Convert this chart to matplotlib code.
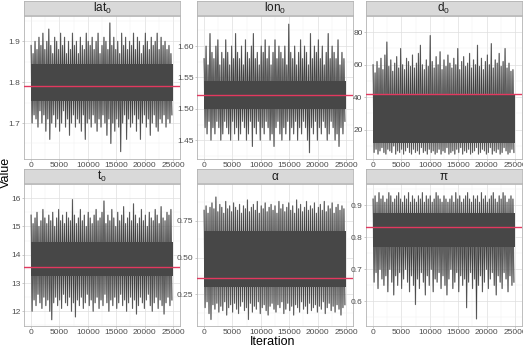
import numpy as np
import matplotlib
matplotlib.use("Agg")
import matplotlib.pyplot as plt

plt.rcParams['font.family'] = ['Liberation Sans', 'DejaVu Sans']

# --- data (MCMC traces, 25000 iterations) ---
n_iter = 25000
panel_titles = ['lat$_\\mathregular{0}$', 'lon$_\\mathregular{0}$', 'd$_\\mathregular{0}$',
                't$_\\mathregular{0}$', 'α', 'π']

# spike tips of each trace (upper / lower extremes per block of iterations)
lat_hi = [1.89, 1.87, 1.90, 1.88, 1.91, 1.89, 1.92, 1.88, 1.90, 1.93, 1.89, 1.87, 1.91, 1.90, 1.88, 1.92, 1.89, 1.91, 1.87, 1.90,
          1.88, 1.92, 1.89, 1.90, 1.87, 1.91, 1.89, 1.88, 1.92, 1.90, 1.89, 1.91, 1.88, 1.90, 1.92, 1.87, 1.89, 1.91, 1.90, 1.88,
          1.945, 1.89, 1.91, 1.88, 1.90, 1.87, 1.92, 1.89, 1.91, 1.88, 1.90, 1.89, 1.92, 1.88, 1.91, 1.90, 1.87, 1.89, 1.92, 1.90,
          1.88, 1.91, 1.89, 1.90, 1.92, 1.88, 1.91, 1.89, 1.90, 1.88, 1.89, 1.87]
lat_lo = [1.70, 1.72, 1.71, 1.69, 1.73, 1.70, 1.72, 1.68, 1.71, 1.66, 1.70, 1.72, 1.69, 1.71, 1.68, 1.70, 1.73, 1.69, 1.71, 1.67,
          1.70, 1.72, 1.69, 1.71, 1.70, 1.68, 1.72, 1.66, 1.70, 1.71, 1.69, 1.72, 1.70, 1.68, 1.71, 1.69, 1.72, 1.70, 1.67, 1.71,
          1.65, 1.70, 1.68, 1.71, 1.69, 1.63, 1.70, 1.72, 1.66, 1.71, 1.69, 1.70, 1.72, 1.68, 1.71, 1.66, 1.70, 1.72, 1.69, 1.71,
          1.67, 1.70, 1.72, 1.69, 1.68, 1.71, 1.70, 1.72, 1.69, 1.71, 1.70, 1.72]
lon_hi = [1.58, 1.60, 1.57, 1.62, 1.59, 1.58, 1.60, 1.61, 1.57, 1.59, 1.58, 1.61, 1.59, 1.57, 1.60, 1.58, 1.62, 1.59, 1.58, 1.60,
          1.57, 1.61, 1.59, 1.58, 1.60, 1.62, 1.58, 1.59, 1.57, 1.60, 1.59, 1.61, 1.58, 1.60, 1.57, 1.59, 1.61, 1.58, 1.60, 1.59,
          1.58, 1.60, 1.57, 1.635, 1.59, 1.58, 1.60, 1.57, 1.59, 1.61, 1.58, 1.60, 1.59, 1.57, 1.62, 1.58, 1.60, 1.59, 1.61, 1.58,
          1.60, 1.57, 1.59, 1.62, 1.58, 1.60, 1.59, 1.58, 1.61, 1.57, 1.59, 1.58]
lon_lo = [1.47, 1.46, 1.48, 1.45, 1.47, 1.46, 1.48, 1.47, 1.45, 1.46, 1.48, 1.47, 1.46, 1.45, 1.48, 1.46, 1.47, 1.45, 1.46, 1.48,
          1.47, 1.45, 1.46, 1.48, 1.44, 1.47, 1.46, 1.48, 1.45, 1.47, 1.46, 1.48, 1.47, 1.45, 1.46, 1.44, 1.47, 1.48, 1.46, 1.45,
          1.47, 1.46, 1.48, 1.45, 1.47, 1.46, 1.48, 1.45, 1.47, 1.46, 1.48, 1.47, 1.45, 1.43, 1.47, 1.46, 1.48, 1.45, 1.47, 1.46,
          1.48, 1.47, 1.45, 1.46, 1.48, 1.47, 1.45, 1.46, 1.44, 1.47, 1.46, 1.48]
d_hi = [60, 55, 62, 58, 64, 57, 66, 74, 59, 63, 56, 61, 65, 58, 70, 60, 57, 64, 62, 59,
        66, 58, 61, 67, 72, 60, 57, 63, 59, 78, 62, 58, 65, 60, 68, 57, 63, 59, 66, 61,
        58, 64, 60, 70, 57, 62, 65, 59, 61, 67, 58, 63, 60, 72, 59, 64, 57, 62, 66, 60,
        73, 58, 63, 61, 67, 59, 62, 70, 58, 61, 56, 57]
d_lo = [6, 8, 5, 7, 9, 6, 5, 8, 7, 6, 10, 5, 7, 6, 8, 5, 7, 9, 6, 5,
        8, 6, 7, 5, 9, 6, 7, 5, 8, 6, 7, 5, 6, 8, 5, 7, 6, 9, 5, 6,
        7, 5, 8, 6, 9, 5, 7, 6, 8, 5, 6, 7, 9, 5, 6, 8, 7, 5, 6, 9,
        5, 7, 6, 8, 5, 6, 9, 7, 5, 6, 8, 6]
t_hi = [15.4, 15.1, 15.3, 15.5, 15.0, 15.2, 15.6, 15.3, 15.1, 15.4, 15.2, 15.5, 15.0, 15.3, 15.6, 15.2, 15.4, 15.1, 15.5, 15.3,
        15.2, 15.95, 15.4, 15.1, 15.3, 15.6, 15.2, 15.4, 15.0, 15.5, 15.3, 15.1, 15.4, 15.6, 15.2, 15.3, 15.5, 15.9, 15.1, 15.4,
        15.2, 15.6, 15.3, 15.0, 15.5, 15.2, 15.4, 15.7, 15.1, 15.3, 15.5, 15.2, 15.8, 15.4, 15.1, 15.3, 15.6, 15.2, 15.4, 15.0,
        15.5, 15.3, 15.2, 15.6, 15.4, 15.1, 15.7, 15.3, 15.2, 15.5, 15.4, 15.6]
t_lo = [12.0, 12.4, 12.2, 12.6, 12.3, 12.1, 12.5, 12.2, 12.4, 12.0, 11.7, 12.3, 12.5, 12.2, 12.4, 12.1, 12.6, 12.3, 12.2, 12.5,
        12.0, 12.3, 11.8, 12.4, 12.2, 12.5, 12.1, 12.3, 12.6, 12.2, 12.4, 12.0, 12.3, 12.5, 12.1, 12.4, 12.2, 12.6, 12.3, 12.0,
        12.4, 12.2, 12.5, 12.1, 12.3, 12.6, 12.2, 12.4, 12.0, 12.3, 12.5, 12.1, 12.4, 11.9, 12.2, 12.5, 12.3, 12.1, 12.4, 12.6,
        12.2, 12.0, 12.3, 12.5, 12.1, 12.4, 12.2, 11.9, 12.3, 12.5, 12.2, 12.4]
a_hi = [0.82, 0.85, 0.80, 0.84, 0.87, 0.83, 0.91, 0.81, 0.86, 0.84, 0.80, 0.88, 0.83, 0.85, 0.81, 0.87, 0.84, 0.82, 0.86, 0.80,
        0.85, 0.83, 0.89, 0.81, 0.84, 0.86, 0.82, 0.88, 0.80, 0.85, 0.83, 0.87, 0.81, 0.84, 0.86, 0.82, 0.85, 0.80, 0.88, 0.83,
        0.86, 0.81, 0.84, 0.87, 0.82, 0.85, 0.80, 0.89, 0.83, 0.86, 0.81, 0.84, 0.88, 0.82, 0.85, 0.83, 0.87, 0.80, 0.84, 0.86,
        0.82, 0.88, 0.81, 0.85, 0.83, 0.87, 0.80, 0.84, 0.86, 0.82, 0.85, 0.83]
a_lo = [0.16, 0.20, 0.12, 0.08, 0.18, 0.15, 0.19, 0.13, 0.17, 0.14, 0.20, 0.11, 0.16, 0.18, 0.13, 0.19, 0.15, 0.12, 0.17, 0.20,
        0.14, 0.16, 0.08, 0.19, 0.13, 0.17, 0.15, 0.20, 0.12, 0.16, 0.18, 0.14, 0.11, 0.17, 0.19, 0.15, 0.13, 0.18, 0.16, 0.20,
        0.12, 0.15, 0.19, 0.14, 0.17, 0.11, 0.18, 0.16, 0.13, 0.20, 0.15, 0.17, 0.12, 0.19, 0.14, 0.16, 0.18, 0.13, 0.17, 0.15,
        0.20, 0.12, 0.16, 0.19, 0.14, 0.17, 0.13, 0.18, 0.15, 0.11, 0.16, 0.18]
p_hi = [0.92, 0.93, 0.91, 0.94, 0.92, 0.93, 0.91, 0.92, 0.94, 0.93, 0.91, 0.92, 0.93, 0.94, 0.92, 0.91, 0.93, 0.92, 0.94, 0.91,
        0.93, 0.92, 0.91, 0.93, 0.92, 0.94, 0.91, 0.93, 0.92, 0.93, 0.91, 0.92, 0.94, 0.93, 0.92, 0.91, 0.93, 0.92, 0.91, 0.92,
        0.93, 0.91, 0.94, 0.92, 0.93, 0.91, 0.92, 0.93, 0.94, 0.92, 0.91, 0.93, 0.92, 0.93, 0.91, 0.94, 0.92, 0.93, 0.91, 0.92,
        0.93, 0.94, 0.92, 0.91, 0.93, 0.92, 0.94, 0.93, 0.91, 0.92, 0.93, 0.92]
p_lo = [0.66, 0.69, 0.64, 0.70, 0.67, 0.65, 0.68, 0.63, 0.70, 0.66, 0.62, 0.68, 0.65, 0.69, 0.64, 0.67, 0.70, 0.66, 0.63, 0.68,
        0.65, 0.59, 0.67, 0.64, 0.69, 0.66, 0.62, 0.68, 0.65, 0.70, 0.63, 0.67, 0.66, 0.69, 0.64, 0.68, 0.65, 0.62, 0.67, 0.70,
        0.64, 0.66, 0.69, 0.63, 0.68, 0.65, 0.67, 0.58, 0.66, 0.69, 0.64, 0.67, 0.545, 0.65, 0.68, 0.63, 0.66, 0.70, 0.64, 0.67,
        0.69, 0.65, 0.62, 0.68, 0.66, 0.64, 0.69, 0.67, 0.63, 0.68, 0.65, 0.66]

# dense core of each trace (lower, upper)
cores = [(1.755, 1.845), (1.50, 1.545), (12, 42), (13.25, 14.45), (0.30, 0.68), (0.77, 0.875)]
# red reference lines
ref_values = [1.79, 1.522, 42, 13.56, 0.362, 0.832]

spikes = [(lat_hi, lat_lo), (lon_hi, lon_lo), (d_hi, d_lo), (t_hi, t_lo), (a_hi, a_lo), (p_hi, p_lo)]
ylims = [(1.612, 1.962), (1.42, 1.648), (2.0, 81.7), (11.48, 16.17), (0.036, 0.998), (0.523, 0.967)]
yticks = [[1.7, 1.8, 1.9], [1.45, 1.50, 1.55, 1.60], [20, 40, 60, 80], [12, 13, 14, 15, 16],
          [0.25, 0.50, 0.75], [0.6, 0.7, 0.8, 0.9]]
yfmt = ['{:.1f}', '{:.2f}', '{:.0f}', '{:.0f}', '{:.2f}', '{:.1f}']
xticks = [0, 5000, 10000, 15000, 20000, 25000]

W, H = 523, 349
fig = plt.figure(figsize=(W / 100, H / 100), dpi=100)

col_x = [24, 197, 366]
panel_w = 156
rows = [(16, 159, 1), (184, 326, 169)]  # panel top, panel bottom, strip top (pixels)


def px(x0, y0, x1, y1):
    return [x0 / W, 1 - y1 / H, (x1 - x0) / W, (y1 - y0) / H]


for i in range(6):
    r, c = divmod(i, 3)
    top, bot, stop = rows[r]
    x0 = col_x[c]
    ax = fig.add_axes(px(x0, top, x0 + panel_w, bot))
    hi, lo = spikes[i]
    n = min(len(hi), len(lo))
    step_it = n_iter / n
    it = np.arange(n) * step_it
    lo_core, hi_core = cores[i]

    # trace: alternating upper / lower excursions over a dense core
    xs = np.ravel(np.column_stack([it, it + step_it / 2]))
    ys = np.ravel(np.column_stack([hi[:n], lo[:n]]))
    ax.plot(xs, ys, color='#8c8c8c', lw=0.9, alpha=0.9, zorder=2)
    ax.plot(xs, ys, color='#3f3f3f', lw=0.45, zorder=3)
    ax.fill_between([0, n_iter], lo_core, hi_core, color='#474747', lw=0, zorder=4)
    ax.axhline(ref_values[i], color='#E3385F', lw=1.0, zorder=5)

    ax.set_xlim(-1250, 26250)
    ax.set_ylim(*ylims[i])
    ax.set_xticks(xticks)
    ax.set_xticklabels([str(v) for v in xticks])
    ax.set_yticks(yticks[i])
    ax.set_yticklabels([yfmt[i].format(v) for v in yticks[i]])
    ax.set_xticks([2500, 7500, 12500, 17500, 22500], minor=True)
    yt = yticks[i]
    ystep = yt[1] - yt[0]
    ax.set_yticks([v + ystep / 2 for v in [yt[0] - ystep] + yt], minor=True)
    ax.grid(True, which='major', color='#dedede', lw=0.5, zorder=0)
    ax.grid(True, which='minor', color='#efefef', lw=0.3, zorder=0)
    ax.set_axisbelow(True)
    ax.tick_params(which='major', length=1.5, width=0.5, color='#b3b3b3', labelsize=6,
                   labelcolor='#4d4d4d', pad=1)
    ax.tick_params(which='minor', length=0)
    for s in ax.spines.values():
        s.set_color('#b3b3b3')
        s.set_linewidth(0.6)

    # facet strip
    sax = fig.add_axes(px(x0, stop, x0 + panel_w, stop + 14))
    sax.set_facecolor('#d9d9d9')
    sax.set_xticks([])
    sax.set_yticks([])
    for s in sax.spines.values():
        s.set_color('#b3b3b3')
        s.set_linewidth(0.6)
    sax.text(0.5, 0.45, panel_titles[i], ha='center', va='center', fontsize=8.5,
             color='#1a1a1a', transform=sax.transAxes)

fig.text(6 / W, 1 - 172 / H, 'Value', rotation=90, ha='center', va='center', fontsize=9)
fig.text(0.5 * (24 + 522) / W, 1 - 342 / H, 'Iteration', ha='center', va='center', fontsize=9)

fig.savefig('out.png', dpi=100)
